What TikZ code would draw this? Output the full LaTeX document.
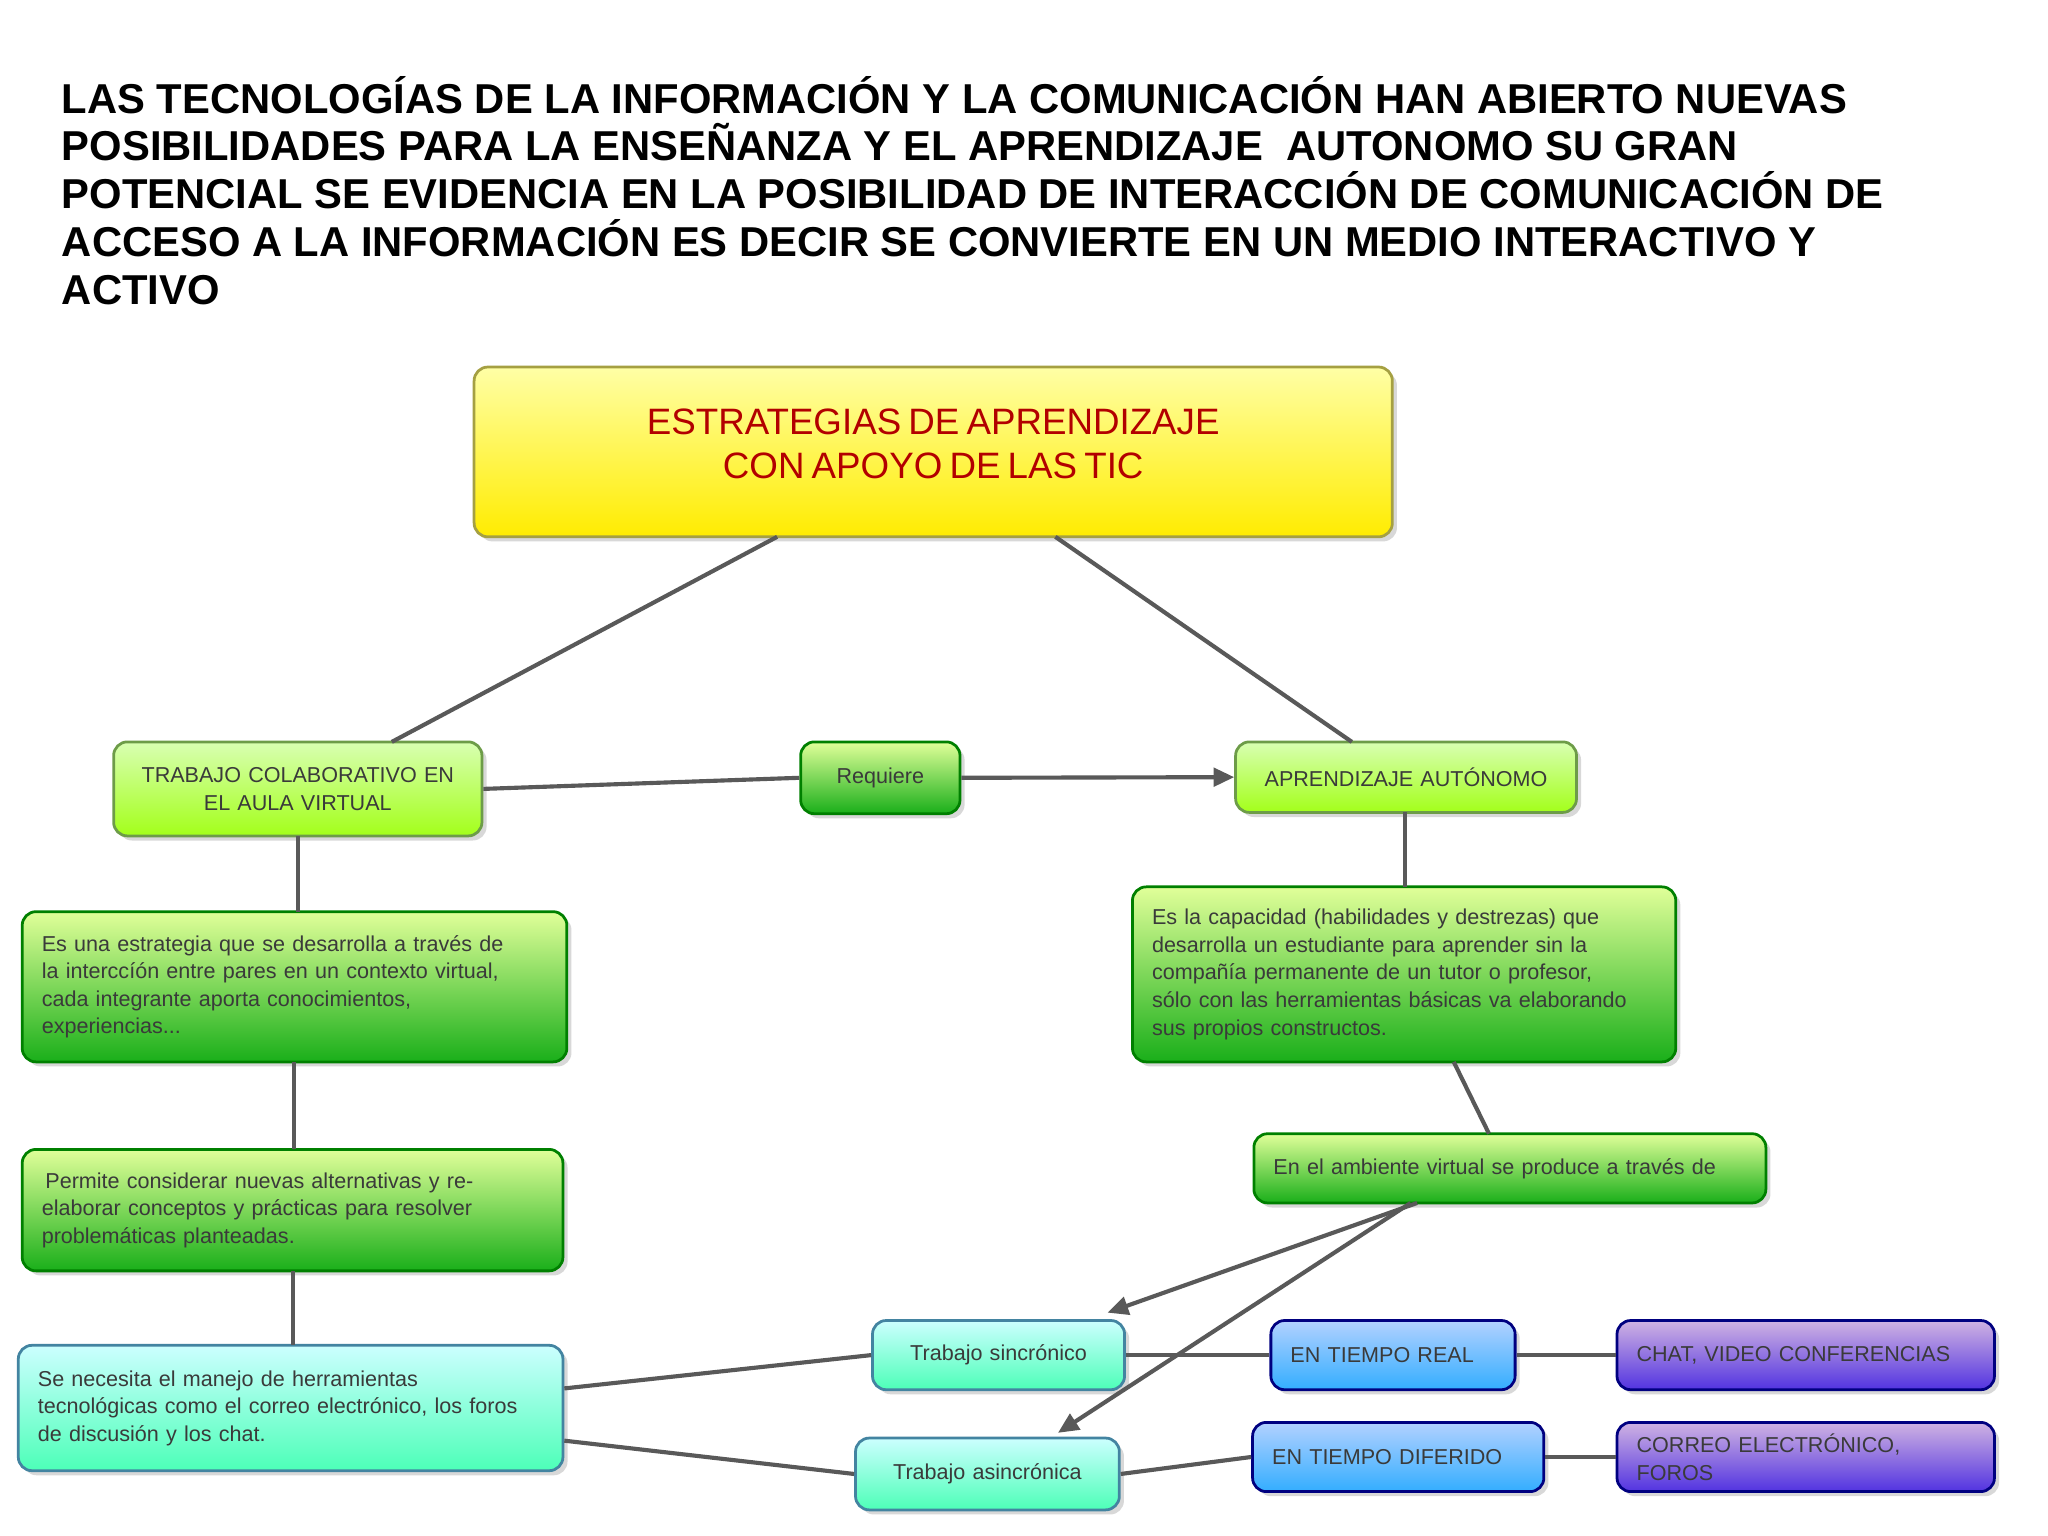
\documentclass[tikz,border=0pt]{standalone}
\usepackage{fontspec}
\setmainfont{Liberation Sans}
\usetikzlibrary{shadows,arrows.meta}
\definecolor{txt}{HTML}{3A3A3A}
\tikzset{
 bx/.style={rounded corners=6pt,draw=#1!70!black,line width=1.2pt,drop shadow={opacity=0.3,shadow xshift=2pt,shadow yshift=-2pt},text=txt,font=\fontsize{9.4pt}{12pt}\selectfont},
 yel/.style={bx=yellow,top color=yellow!35,bottom color=yellow!85!orange,draw=yellow!60!black},
 grn/.style={bx=green,top color=green!30!yellow!40,bottom color=green!65!black!90,draw=green!50!black},
 lgr/.style={bx=green,top color=yellow!50!green!30,bottom color=yellow!60!green!90,draw=yellow!40!green!70!black},
 cyn/.style={bx=cyan,top color=cyan!20,bottom color=cyan!60!green!70,draw=cyan!60!black},
 blu/.style={bx=blue,top color=cyan!40!blue!30,bottom color=blue!40!cyan!80,draw=blue!50!black},
 pur/.style={bx=blue,top color=blue!25!violet!30,bottom color=blue!70!violet!80,draw=blue!50!black},
 ln/.style={draw=black!65,line width=1.8pt},
 ar/.style={ln,-{Triangle[length=9pt,width=8pt]}}
}
\newcommand\bx[8]{\pgfmathsetmacro\bw{(#4-#2)*0.02}\pgfmathsetmacro\bh{(#5-#3)*0.02}\pgfmathsetmacro\tw{\bw-0.6}%
\node[#6,minimum width=\bw cm,minimum height=\bh cm,text width=\tw cm,inner xsep=0.3cm,align=#7] (#1) at ({(#2+#4)/2},{(#3+#5)/2}) {#8};}
\begin{document}
\begin{tikzpicture}[x=0.02cm,y=-0.02cm]
\useasboundingbox[fill=white] (0,0) rectangle (1568,1176);
\node[anchor=north west,align=left,font=\bfseries\fontsize{18.2pt}{20.8pt}\selectfont,inner sep=0] (title) at (47,58) {LAS TECNOLOGÍAS DE LA INFORMACIÓN Y LA COMUNICACIÓN HAN ABIERTO NUEVAS\\POSIBILIDADES PARA LA ENSEÑANZA Y EL APRENDIZAJE \ AUTONOMO SU GRAN\\POTENCIAL SE EVIDENCIA EN LA POSIBILIDAD DE INTERACCIÓN DE COMUNICACIÓN DE\\ACCESO A LA INFORMACIÓN ES DECIR SE CONVIERTE EN UN MEDIO INTERACTIVO Y\\ACTIVO};
\bx{top}{363}{281}{1066}{411}{yel}{center}{\raisebox{0.7cm}{\parbox{\linewidth}{\centering\color{red!70!black}\fontsize{16pt}{19pt}\selectfont ESTRATEGIAS DE APRENDIZAJE\\CON APOYO DE LAS TIC}}}
\bx{col}{87}{568}{369}{640}{lgr}{center}{TRABAJO COLABORATIVO EN\\EL AULA VIRTUAL}
\bx{req}{613}{568}{735}{623}{grn}{center}{Requiere}
\bx{aut}{946}{568}{1207}{622}{lgr}{center}{APRENDIZAJE AUTÓNOMO}
\bx{est}{17}{698}{434}{813}{grn}{left}{Es una estrategia que se desarrolla a través de\\la interccíón entre pares en un contexto virtual,\\cada integrante aporta conocimientos,\\experiencias...}
\bx{cap}{867}{679}{1283}{813}{grn}{left}{Es la capacidad (habilidades y destrezas) que\\desarrolla un estudiante para aprender sin la\\compañía permanente de un tutor o profesor,\\sólo con las herramientas básicas va elaborando\\sus propios constructos.}
\bx{per}{17}{880}{431}{973}{grn}{left}{\,Permite considerar nuevas alternativas y re-\\elaborar conceptos y prácticas para resolver\\problemáticas planteadas.}
\bx{amb}{960}{868}{1352}{921}{grn}{left}{En el ambiente virtual se produce a través de}
\bx{nec}{14}{1030}{431}{1126}{cyn}{left}{Se necesita el manejo de herramientas\\tecnológicas como el correo electrónico, los foros\\de discusión y los chat.}
\bx{sin}{668}{1011}{861}{1064}{cyn}{center}{Trabajo sincrónico}
\bx{asi}{655}{1101}{857}{1156}{cyn}{center}{Trabajo asincrónica}
\bx{real}{973}{1011}{1160}{1064}{blu}{left}{EN TIEMPO REAL}
\bx{dif}{959}{1089}{1182}{1142}{blu}{left}{EN TIEMPO DIFERIDO}
\bx{chat}{1238}{1011}{1527}{1064}{pur}{left}{CHAT, VIDEO CONFERENCIAS}
\bx{corr}{1238}{1089}{1527}{1142}{pur}{left}{CORREO ELECTRÓNICO, FOROS}
\draw[ln] (595,411) -- (300,568);
\draw[ln] (808,411) -- (1035,568);
\draw[ln] (col.east) -- (req.west);
\draw[ar] (req.east) -- (aut.west);
\draw[ln] (228,640) -- (228,698);
\draw[ln] (225,813) -- (225,880);
\draw[ln] (224,973) -- (224,1030);
\draw[ln] (1076,622) -- (1076,679);
\draw[ln] (1113,813) -- (1140,868);
\draw[ar] (1085,921) -- (848,1005);
\draw[ar] (1080,921) -- (810,1097);
\draw[ln] (nec.east) ++(0,-15) -- (sin.west);
\draw[ln] (nec.east) ++(0,25) -- (asi.west);
\draw[ln] (sin.east) -- (real.west);
\draw[ln] (real.east) -- (chat.west);
\draw[ln] (asi.east) -- (dif.west);
\draw[ln] (dif.east) -- (corr.west);
\end{tikzpicture}
\end{document}
